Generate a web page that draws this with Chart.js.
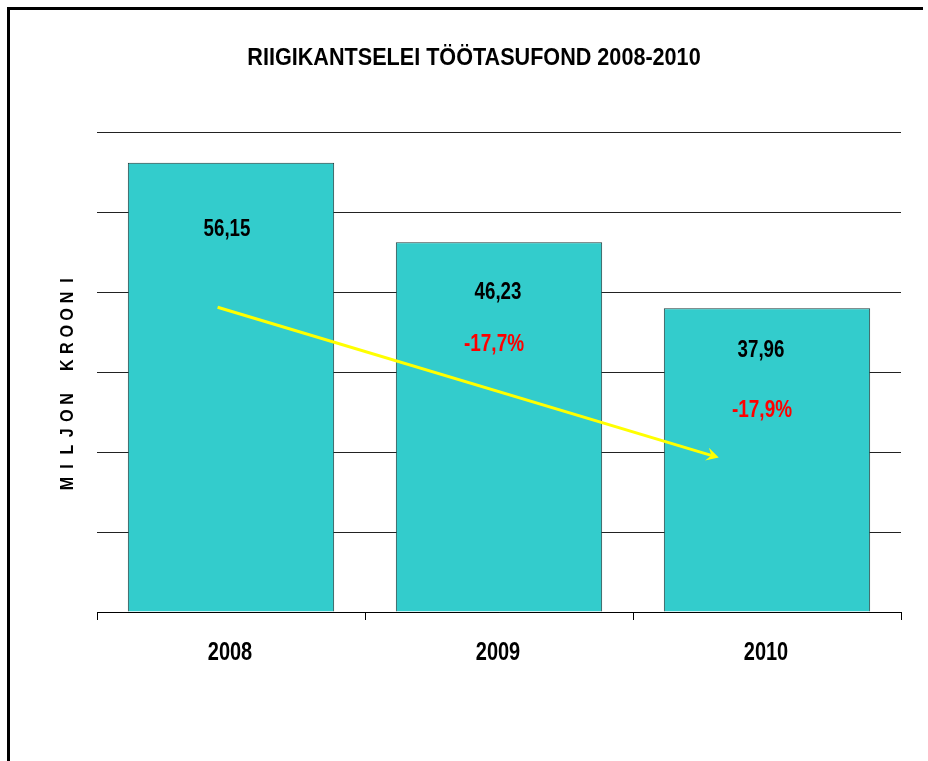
<!DOCTYPE html>
<html><head><meta charset="utf-8">
<script src="https://cdn.jsdelivr.net/npm/chart.js@4/dist/chart.umd.min.js"></script>
<style>
html,body{margin:0;padding:0;background:#fff;}
#wrap{position:relative;width:928px;height:761px;}
#frame{position:absolute;left:7px;top:7px;width:916px;height:760px;border-left:3px solid #000;border-top:3px solid #000;box-sizing:border-box;pointer-events:none;}
</style></head>
<body>
<div id="wrap"><canvas id="c" width="928" height="761"></canvas><div id="frame"></div></div>
<script>
const titleText = 'RIIGIKANTSELEI TÖÖTASUFOND 2008-2010';
const yTitle = 'MILJON KROONI';
const years = ['2008', '2009', '2010'];
const values = [56.15, 46.23, 37.96];
const valueLabels = ['56,15', '46,23', '37,96'];
const changeLabels = ['', '-17,7%', '-17,9%'];
const arrowFrom = {x: -0.05, y: 38.1};
const arrowTo = {x: 1.82, y: 19.3};

const FONT = "'Liberation Sans',Arial,sans-serif";

function narrowText(ctx, str, cx, cy, size, sx, color) {
  ctx.save();
  ctx.font = 'bold ' + size + 'px ' + FONT;
  ctx.fillStyle = color;
  ctx.textAlign = 'center';
  ctx.textBaseline = 'alphabetic';
  ctx.translate(cx, cy + size * 0.716 / 2);
  ctx.scale(sx, 1);
  ctx.fillText(str, 0, 0);
  ctx.restore();
}

const overlay = {
  id: 'overlay',
  afterDatasetsDraw(chart) {
    const ctx = chart.ctx, xs = chart.scales.x, ys = chart.scales.y;
    // title
    narrowText(ctx, titleText, 474, 56.5, 24, 0.9, '#000');
    // x category labels
    years.forEach((y, i) => narrowText(ctx, y, xs.getPixelForTick(i) - 1, 651, 25, 0.8, '#000'));
    // y title, spaced letters
    ctx.save();
    ctx.translate(66, 382);
    ctx.rotate(-Math.PI/2);
    ctx.font = 'bold 19px ' + FONT;
    ctx.fillStyle = '#000';
    ctx.textAlign = 'center'; ctx.textBaseline = 'alphabetic';
    const chars = yTitle.split('');
    const step = 16.9;
    const total = step * (chars.length - 1);
    chars.forEach((ch, i) => {
      ctx.save();
      ctx.translate(-total/2 + i*step, 19 * 0.716 / 2);
      ctx.scale(0.85, 1);
      ctx.fillText(ch, 0, 0);
      ctx.restore();
    });
    ctx.restore();
    // value labels (offsets from bar tops)
    const meta = chart.getDatasetMeta(0);
    const valOff = [{dx: -4, dy: 65}, {dx: -1, dy: 48}, {dx: -6, dy: 40}];
    const pctOff = [null, {dx: -5, dy: 100}, {dx: -5, dy: 100}];
    meta.data.forEach((bar, i) => {
      narrowText(ctx, valueLabels[i], bar.x + valOff[i].dx, bar.y + valOff[i].dy, 24, 0.78, '#000');
      if (changeLabels[i]) narrowText(ctx, changeLabels[i], bar.x + pctOff[i].dx, bar.y + pctOff[i].dy, 24, 0.79, '#ff0000');
    });
    // arrow
    const x1 = xs.getPixelForValue(arrowFrom.x), y1 = ys.getPixelForValue(arrowFrom.y);
    const x2 = xs.getPixelForValue(arrowTo.x), y2 = ys.getPixelForValue(arrowTo.y);
    ctx.save();
    ctx.strokeStyle = '#ffff00'; ctx.fillStyle = '#ffff00';
    ctx.lineWidth = 3;
    const ang = Math.atan2(y2 - y1, x2 - x1);
    const hl = 14;
    ctx.beginPath(); ctx.moveTo(x1, y1); ctx.lineTo(x2 - Math.cos(ang)*7, y2 - Math.sin(ang)*7); ctx.stroke();
    ctx.beginPath();
    ctx.moveTo(x2, y2);
    ctx.lineTo(x2 - hl*Math.cos(ang - 0.5), y2 - hl*Math.sin(ang - 0.5));
    ctx.lineTo(x2 - hl*0.55*Math.cos(ang), y2 - hl*0.55*Math.sin(ang));
    ctx.lineTo(x2 - hl*Math.cos(ang + 0.5), y2 - hl*Math.sin(ang + 0.5));
    ctx.closePath(); ctx.fill();
    ctx.restore();
  }
};

new Chart(document.getElementById('c'), {
  type: 'bar',
  data: {
    labels: years,
    datasets: [{
      data: values,
      backgroundColor: '#33cccc',
      borderColor: '#1f3a3a',
      borderWidth: 1,
      barPercentage: 0.77,
      categoryPercentage: 1.0
    }]
  },
  options: {
    responsive: false,
    animation: false,
    devicePixelRatio: 1,
    layout: {padding: {left: 0, right: 27, top: 132, bottom: 0}},
    plugins: {legend: {display: false}, tooltip: {enabled: false}, title: {display: false}},
    scales: {
      x: {
        offset: true,
        grid: {offset: true, drawOnChartArea: false, drawTicks: true, tickLength: 8, color: '#000', lineWidth: 1},
        border: {display: true, color: '#000', width: 1},
        ticks: {display: false},
        afterFit(s) { s.height = 149; }
      },
      y: {
        min: 0, max: 60,
        ticks: {display: false, stepSize: 10},
        grid: {color: '#222', lineWidth: 1, drawTicks: false},
        border: {display: false},
        afterFit(s) { s.width = 97; }
      }
    }
  },
  plugins: [overlay]
});
</script>
</body></html>
